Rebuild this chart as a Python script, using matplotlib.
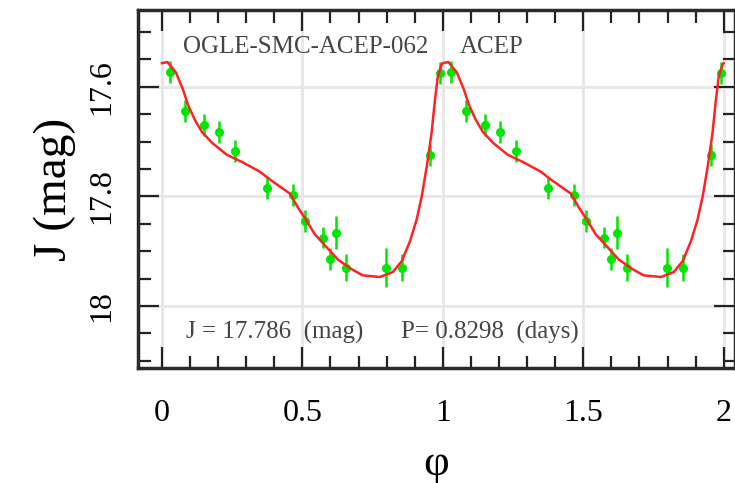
import matplotlib
matplotlib.use("Agg")
import matplotlib.pyplot as plt
import numpy as np
from matplotlib.ticker import MultipleLocator

# Observed photometry (one cycle; repeated at phase+1)
obs_phase = [0.028, 0.082, 0.150, 0.203, 0.260, 0.374, 0.466, 0.509, 0.573,
             0.598, 0.619, 0.655, 0.797, 0.854, 0.954, 0.990]
obs_mag = [17.573, 17.645, 17.669, 17.682, 17.718, 17.784, 17.797, 17.845, 17.875,
           17.915, 17.866, 17.930, 17.930, 17.930, 17.724, 17.575]
obs_err = [0.020, 0.020, 0.020, 0.020, 0.020, 0.020, 0.020, 0.020, 0.020,
           0.020, 0.030, 0.025, 0.035, 0.025, 0.020, 0.020]

# Fitted light-curve model (one cycle)
fit_phase = [0.000, 0.020, 0.050, 0.075, 0.093, 0.117, 0.142, 0.178, 0.231, 0.288,
             0.349, 0.384, 0.420, 0.456, 0.484, 0.516, 0.544, 0.587, 0.626, 0.676,
             0.715, 0.776, 0.822, 0.854, 0.883, 0.907, 0.925, 0.943, 0.960, 0.972,
             0.982, 0.996]
fit_mag = [17.557, 17.555, 17.574, 17.605, 17.633, 17.660, 17.682, 17.702, 17.724, 17.738,
           17.755, 17.769, 17.782, 17.795, 17.820, 17.845, 17.869, 17.893, 17.915, 17.933,
           17.944, 17.947, 17.938, 17.918, 17.882, 17.842, 17.800, 17.745, 17.684, 17.624,
           17.582, 17.559]

x_ticks = [0, 0.5, 1, 1.5, 2]
x_ticklabels = ["0", "0.5", "1", "1.5", "2"]
y_ticks = [17.6, 17.8, 18.0]
y_ticklabels = ["17.6", "17.8", "18"]

star_name = "OGLE-SMC-ACEP-062"
star_type = "ACEP"
mean_text = "J = 17.786  (mag)"
period_text = "P= 0.8298  (days)"

plt.rcParams['font.family'] = ['Liberation Serif', 'DejaVu Serif']

fig = plt.figure(figsize=(7.35, 4.83), dpi=100)
ax = fig.add_axes([138/735, 1-368/483, (735-138)/735, (368-10)/483])

fp = np.array(fit_phase)
fm = np.array(fit_mag)
cx = np.concatenate([fp, fp + 1, [2.0]])
cy = np.concatenate([fm, fm, [fm[0]]])

op = np.array(obs_phase)
om = np.array(obs_mag)
oe = np.array(obs_err)
px = np.concatenate([op, op + 1])
py = np.concatenate([om, om])
pe = np.concatenate([oe, oe])

ax.errorbar(px, py, yerr=pe, xerr=0.008, fmt='o', ms=5.5, color='#00e600',
            ecolor='#00e600', elinewidth=1.8, capsize=0, zorder=3)
ax.plot(cx, cy, color='#ff2222', lw=1.8, zorder=4)

ax.set_xlim(-0.085, 2.04)
ax.set_ylim(18.113, 17.46)

ax.set_xticks(x_ticks)
ax.set_xticklabels(x_ticklabels)
ax.set_yticks(y_ticks)
ax.set_yticklabels(y_ticklabels, rotation=90, va='center')
ax.xaxis.set_minor_locator(MultipleLocator(0.1))
ax.yaxis.set_minor_locator(MultipleLocator(0.05))

ax.grid(True, which='major', color='#e6e6e6', lw=2, zorder=0)
ax.set_axisbelow(True)

ax.tick_params(which='both', direction='in', top=True, right=True, color='#222222', width=1.6)
ax.tick_params(which='major', length=15, labelsize=23)
ax.tick_params(which='minor', length=9)
ax.tick_params(axis='x', pad=22)
ax.tick_params(axis='y', pad=16)

for s in ax.spines.values():
    s.set_color('#2a2a2a')
    s.set_linewidth(2.5)

ax.set_xlabel("φ", fontsize=32, labelpad=12)
ax.set_ylabel("J (mag)", fontsize=34, labelpad=8)

T = lambda x, y: (x/735, 1 - y/483)
fig.text(*T(183, 53), star_name, fontsize=18, color='#444444', va='baseline')
fig.text(*T(460, 53), star_type, fontsize=18, color='#444444', va='baseline')
fig.text(*T(186, 339), mean_text, fontsize=18, color='#444444', va='baseline')
fig.text(*T(401, 339), period_text, fontsize=18, color='#444444', va='baseline')

fig.savefig("out.png", dpi=100)
